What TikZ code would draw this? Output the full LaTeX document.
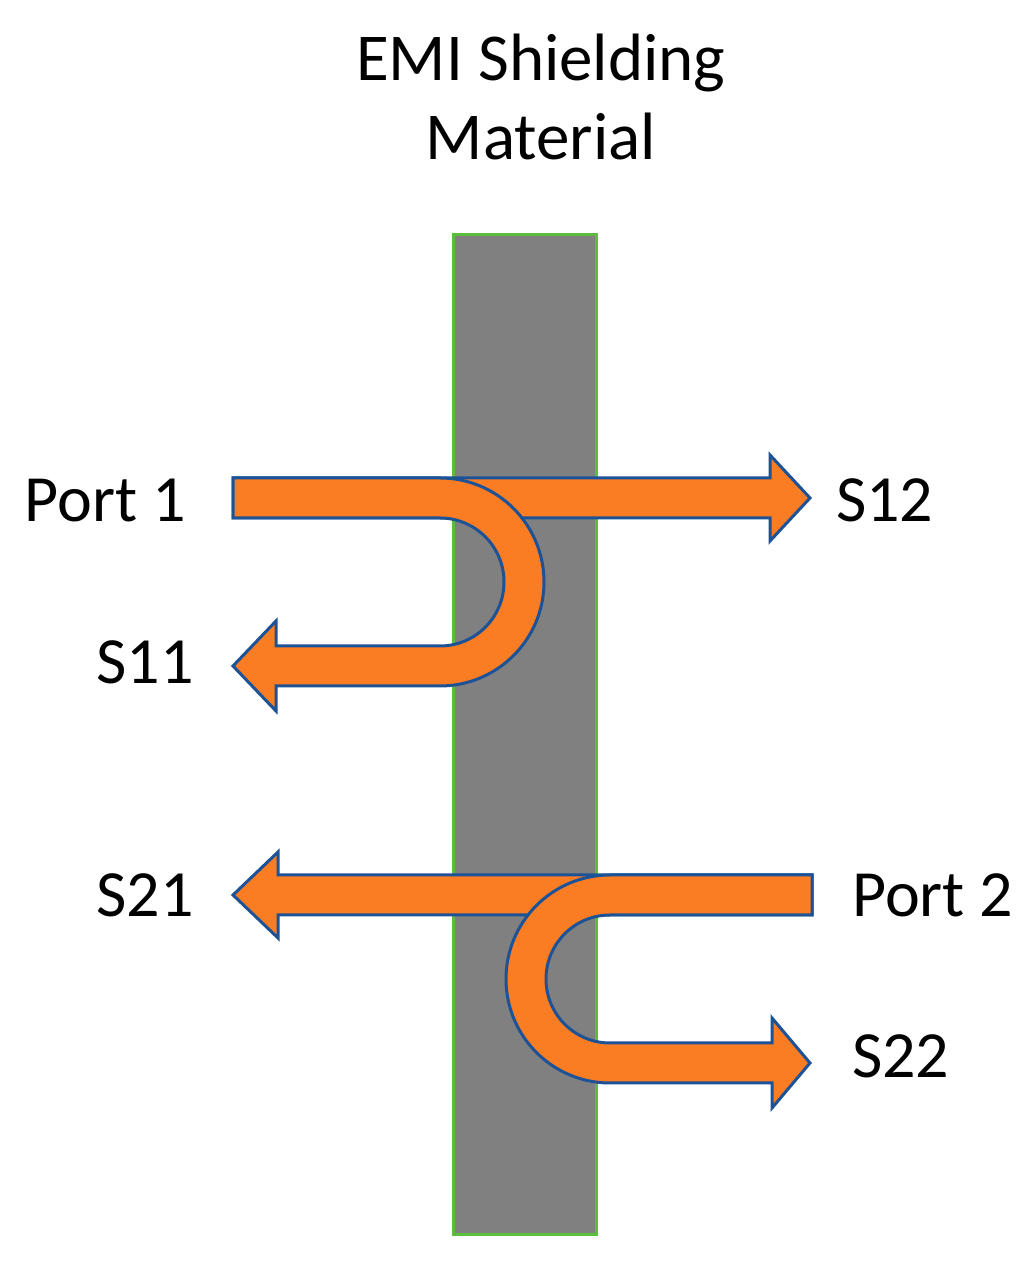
\documentclass[tikz,border=0pt]{standalone}
\usepackage{fontspec}
\setmainfont{Carlito}
\definecolor{arrowfill}{RGB}{250,125,35}
\definecolor{arrowedge}{RGB}{30,82,150}
\definecolor{shieldgreen}{RGB}{90,190,60}
\definecolor{shieldgray}{RGB}{128,128,128}
\tikzset{
  lbl/.style={inner sep=0pt, font=\fontsize{66}{79}\selectfont},
  title/.style={inner sep=0pt, font=\fontsize{67}{80}\selectfont},
  bigarrow/.style={fill=arrowfill, draw=arrowedge, line width=3pt, line join=miter},
  shield/.style={fill=shieldgray, draw=shieldgreen, line width=3pt}
}
\begin{document}
\begin{tikzpicture}[x=1pt,y=1pt]
\useasboundingbox (0,0) rectangle (1034,1264);
% shielding slab
\path[shield] (453,29) rectangle (596,1029);
% title
\node[title, anchor=base] (t1) at (541,1183) {EMI Shielding};
\node[title, anchor=base] (t2) at (541,1104) {Material};
% top group: transmitted S12
\path[bigarrow] (233,786) -- (770,786) -- (770,809) -- (810,766) -- (770,723) -- (770,746) -- (233,746) -- cycle;
% reflected S11
\path[bigarrow] (233,786) -- (440,786) arc[start angle=90, end angle=-90, radius=104pt]
  -- (276,578) -- (276,553) -- (233,598) -- (276,643) -- (276,618) -- (440,618)
  arc[start angle=-90, end angle=90, radius=64pt] -- (233,746) -- cycle;
% bottom group: transmitted S21
\path[bigarrow] (812,389) -- (278,389) -- (278,412) -- (233,369) -- (278,326) -- (278,349) -- (812,349) -- cycle;
% reflected S22
\path[bigarrow] (812,389) -- (610,389) arc[start angle=90, end angle=270, radius=104pt]
  -- (772,181) -- (772,156) -- (810,201) -- (772,246) -- (772,221) -- (610,221)
  arc[start angle=270, end angle=90, radius=64pt] -- (812,349) -- cycle;
% labels
\node[lbl, anchor=base east] (p1) at (186,742) {Port 1};
\node[lbl, anchor=base west] (s12) at (836,742) {S12};
\node[lbl, anchor=base east] (s11) at (194,580) {S11};
\node[lbl, anchor=base east] (s21) at (194,347) {S21};
\node[lbl, anchor=base west] (p2) at (852,347) {Port 2};
\node[lbl, anchor=base west] (s22) at (852,186) {S22};
\end{tikzpicture}
\end{document}
